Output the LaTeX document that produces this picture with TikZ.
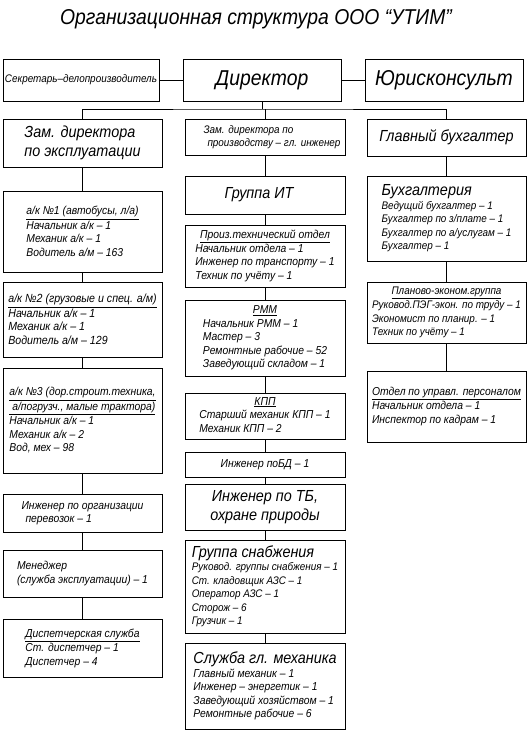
\documentclass[tikz,border=0pt]{standalone}
\usepackage{fontspec}
\setmainfont{Liberation Sans}[FakeStretch=0.9]
\newcommand{\bigfont}{\fontsize{21.5}{25}\selectfont\itshape}
\newcommand{\midfont}{\fontsize{16}{19}\selectfont\itshape}
\newcommand{\smfont}{\fontsize{11.5}{13.5}\selectfont\itshape}
\newcommand{\unithead}[1]{\multicolumn{1}{@{}c@{}}{\underline{#1}}}
\begin{document}
\begin{tikzpicture}[x=1pt,y=-1pt,line width=0.8pt,every node/.style={font=\smfont}]
\tikzset{unit/.style={draw,inner sep=2pt},
  lcol/.style={unit,minimum width=159pt},
  mcol/.style={unit,minimum width=160pt},
  rcol/.style={unit,minimum width=159pt}}
\useasboundingbox (0,0) rectangle (528,731);
\node[font=\bigfont] (title) at (256,19) {Организационная структура ООО “УТИМ”};
% top row
\node[unit,minimum width=156pt,minimum height=42pt,font=\fontsize{11}{13}\selectfont\itshape] (sec) at (81,80) {Секретарь–делопроизводитель};
\node[unit,minimum width=158pt,minimum height=42pt,font=\bigfont] (dir) at (262,80) {Директор};
\node[unit,minimum width=158pt,minimum height=42pt,font=\bigfont] (jur) at (444,80) {Юрисконсульт};
\draw (sec)--(dir);
\draw (dir)--(jur);
\coordinate (bus) at (262,109);
% left column
\node[lcol,minimum height=48pt,align=left,font=\midfont] (zamE) at (82.5,143) {Зам. директора\\по эксплуатации};
\node[lcol,minimum height=81pt,align=left] (ak1) at (82.5,231.5) {\underline{а/к №1 (автобусы, л/а)}\\[1pt]Начальник а/к – 1\\Механик а/к – 1\\Водитель а/м – 163};
\node[lcol,minimum height=75pt,align=left,font=\fontsize{11.8}{13.5}\selectfont\itshape] (ak2) at (82.5,319.5) {\underline{а/к №2 (грузовые и спец. а/м)}\\[1pt]Начальник а/к – 1\\Механик а/к – 1\\Водитель а/м – 129};
\node[lcol,minimum height=105pt,align=left] (ak3) at (82.5,420.5) {\underline{а/к №3 (дор.строит.техника,}\\[1pt]\underline{\ а/погрузч., малые трактора)}\\[1pt]Начальник а/к – 1\\Механик а/к – 2\\Вод, мех – 98};
\node[lcol,minimum height=38pt,align=left] (ing) at (82.5,513) {Инженер по организации\\\hspace*{4pt}перевозок – 1};
\node[lcol,minimum height=47pt,align=left] (men) at (82.5,573.5) {Менеджер\\(служба эксплуатации) – 1};
\node[lcol,minimum height=58pt,align=left] (disp) at (82.5,648) {\underline{Диспетчерская служба}\\[1pt]Ст. диспетчер – 1\\Диспетчер – 4};
% middle column
\node[mcol,minimum height=36pt,align=left,font=\fontsize{11}{12.5}\selectfont\itshape] (zamP) at (265,137) {\hspace*{14pt}Зам. директора по\\\hspace*{18pt}производству – гл. инженер};
\node[mcol,minimum height=38pt,font=\midfont] (it) at (265,195) {Группа ИТ\hspace*{12pt}};
\node[mcol,minimum height=62pt] (pto) at (265,256) {\begin{tabular}{@{}l@{}}\unithead{Произ.технический отдел}\\Начальник отдела – 1\\Инженер по транспорту – 1\\Техник по учёту – 1\end{tabular}};
\node[mcol,minimum height=76pt] (rmm) at (265,338) {\begin{tabular}{@{}l@{}}\unithead{РММ}\\Начальник РММ – 1\\Мастер – 3\\Ремонтные рабочие – 52\\Заведующий складом – 1\end{tabular}};
\node[mcol,minimum height=46pt] (kpp) at (265,416) {\begin{tabular}{@{}l@{}}\unithead{КПП}\\Старший механик КПП – 1\\Механик КПП – 2\end{tabular}};
\node[mcol,minimum height=25pt] (bd) at (265,464.5) {Инженер поБД – 1};
\node[mcol,minimum height=46pt,align=center,font=\midfont] (tb) at (265,507) {Инженер по ТБ,\\охране природы};
\node[mcol,minimum height=93pt,align=left,font=\fontsize{11}{13.5}\selectfont\itshape] (snab) at (265,586.5) {{\midfont Группа снабжения}\\Руковод. группы снабжения – 1\\Ст. кладовщик АЗС – 1\\Оператор АЗС – 1\\Сторож – 6\\Грузчик – 1};
\node[mcol,minimum height=86pt,align=left] (meh) at (265,686) {{\midfont Служба гл. механика}\\Главный механик – 1\\Инженер – энергетик – 1\\Заведующий хозяйством – 1\\Ремонтные рабочие – 6};
% right column
\node[rcol,minimum height=37pt,font=\midfont] (glb) at (446.5,137.5) {Главный бухгалтер};
\node[rcol,minimum height=85pt,align=left,font=\fontsize{11}{13.5}\selectfont\itshape] (buh) at (446.5,218.5) {{\midfont Бухгалтерия}\\Ведущий бухгалтер – 1\\Бухгалтер по з/плате – 1\\Бухгалтер по а/услугам – 1\\Бухгалтер – 1};
\node[rcol,minimum height=61pt,font=\fontsize{11}{13.5}\selectfont\itshape] (peg) at (446.5,312.5) {\begin{tabular}{@{}l@{}}\unithead{Планово-эконом.группа}\\Руковод.ПЭГ-экон. по труду – 1\\Экономист по планир. – 1\\Техник по учёту – 1\end{tabular}};
\node[rcol,minimum height=71pt,align=left] (ok) at (446.5,406.5) {\underline{Отдел по управл. персоналом}\\[1pt]Начальник отдела – 1\\Инспектор по кадрам – 1};
% connectors
\draw (dir.south)--(bus);
\draw (zamE.north) |- (bus) -| (glb.north);
\draw (zamP.north)--(zamP.north |- bus);
\draw (zamE)--(ak1);
\draw (ak1)--(ak2);
\draw (ak2)--(ak3);
\draw (ak3)--(ing);
\draw (ing)--(men);
\draw (men)--(disp);
\draw (zamP)--(it);
\draw (it)--(pto);
\draw (pto)--(rmm);
\draw (rmm)--(kpp);
\draw (kpp)--(bd);
\draw (bd)--(tb);
\draw (tb)--(snab);
\draw (snab)--(meh);
\draw (glb)--(buh);
\draw (buh)--(peg);
\draw (peg)--(ok);
\end{tikzpicture}
\end{document}
